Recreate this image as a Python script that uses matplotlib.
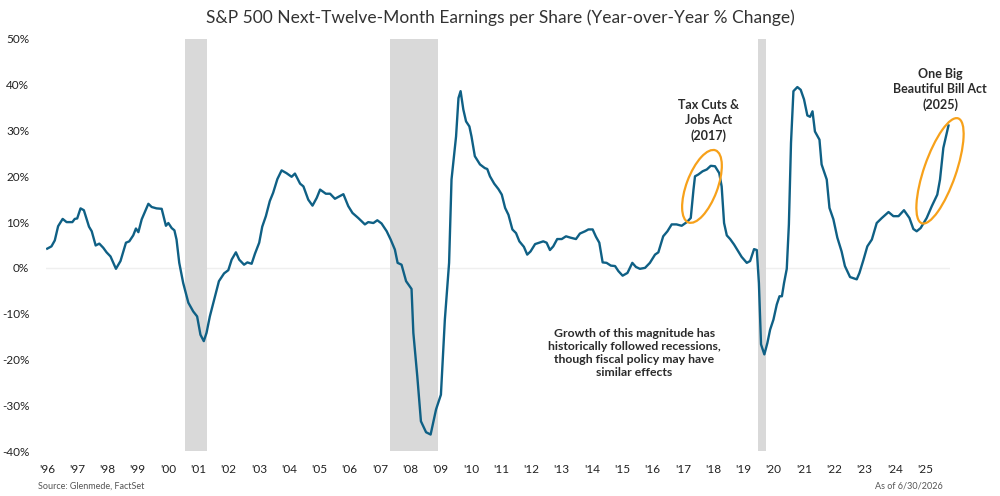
import matplotlib
matplotlib.use("Agg")
import matplotlib.pyplot as plt
from matplotlib.patches import Ellipse
from matplotlib.transforms import ScaledTranslation
import numpy as np

plt.rcParams["font.family"] = ["Lato", "DejaVu Sans"]

# decimal year, NTM EPS year-over-year % change
dates = [
    1996.61, 1996.75, 1996.86, 1996.97, 1997.12, 1997.25, 1997.44, 1997.52, 1997.60, 1997.71,
    1997.82, 1997.99, 1998.08, 1998.21, 1998.33, 1998.46, 1998.57, 1998.70, 1998.88, 1999.03,
    1999.21, 1999.32, 1999.45, 1999.54, 1999.62, 1999.73, 1999.95, 2000.06, 2000.22, 2000.39,
    2000.53, 2000.61, 2000.72, 2000.81, 2000.88, 2000.97, 2001.10, 2001.27, 2001.43, 2001.56,
    2001.67, 2001.78, 2001.87, 2001.98, 2002.15, 2002.28, 2002.45, 2002.59, 2002.70, 2002.84,
    2002.95, 2003.11, 2003.22, 2003.36, 2003.47, 2003.61, 2003.71, 2003.83, 2003.96, 2004.07,
    2004.21, 2004.35, 2004.51, 2004.68, 2004.79, 2004.96, 2005.07, 2005.23, 2005.37, 2005.51,
    2005.62, 2005.81, 2005.95, 2006.11, 2006.39, 2006.55, 2006.69, 2006.88, 2007.10, 2007.21,
    2007.38, 2007.51, 2007.65, 2007.82, 2007.95, 2008.09, 2008.18, 2008.31, 2008.46, 2008.64,
    2008.70, 2008.83, 2008.95, 2009.12, 2009.27, 2009.45, 2009.61, 2009.74, 2009.88, 2009.96,
    2010.11, 2010.19, 2010.26, 2010.35, 2010.44, 2010.55, 2010.62, 2010.73, 2010.90, 2011.06,
    2011.14, 2011.23, 2011.37, 2011.51, 2011.62, 2011.73, 2011.84, 2011.97, 2012.09, 2012.20,
    2012.35, 2012.46, 2012.57, 2012.72, 2012.86, 2012.99, 2013.10, 2013.21, 2013.32, 2013.45,
    2013.60, 2013.74, 2013.89, 2014.07, 2014.20, 2014.37, 2014.48, 2014.62, 2014.73, 2014.84,
    2014.95, 2015.08, 2015.22, 2015.36, 2015.47, 2015.61, 2015.77, 2015.93, 2016.05, 2016.18,
    2016.35, 2016.51, 2016.68, 2016.79, 2016.95, 2017.09, 2017.23, 2017.39, 2017.56, 2017.73,
    2017.86, 2017.95, 2018.00, 2018.11, 2018.25, 2018.39, 2018.52, 2018.66, 2018.80, 2018.88,
    2018.96, 2019.05, 2019.16, 2019.29, 2019.43, 2019.54, 2019.71, 2019.82, 2019.95, 2020.04,
    2020.11, 2020.18, 2020.29, 2020.39, 2020.48, 2020.59, 2020.70, 2020.79, 2020.87, 2020.94,
    2021.03, 2021.10, 2021.17, 2021.25, 2021.38, 2021.49, 2021.60, 2021.71, 2021.80, 2021.88,
    2021.96, 2022.11, 2022.18, 2022.35, 2022.44, 2022.57, 2022.70, 2022.84, 2022.95, 2023.12,
    2023.34, 2023.43, 2023.56, 2023.69, 2023.84, 2024.00, 2024.17, 2024.39, 2024.55, 2024.72,
    2024.90, 2025.08, 2025.21, 2025.32, 2025.45, 2025.65, 2025.82, 2026.00, 2026.09, 2026.20,
    2026.37,
]
eps_yoy = [
    4.2, 4.7, 6.0, 9.1, 10.7, 10.0, 10.0, 10.7, 10.8, 13.0,
    12.6, 9.0, 8.0, 4.9, 5.3, 4.4, 3.4, 2.5, -0.2, 1.5,
    5.5, 5.8, 7.1, 8.6, 7.8, 10.6, 14.0, 13.3, 13.0, 12.9,
    9.2, 9.8, 8.7, 8.2, 6.2, 1.1, -3.3, -7.6, -9.5, -10.6,
    -14.6, -16.0, -14.2, -10.6, -6.2, -2.9, -1.2, -0.5, 1.8, 3.4,
    1.8, 0.7, 1.2, 0.9, 3.1, 5.5, 9.0, 11.3, 14.6, 16.4,
    19.4, 21.3, 20.7, 19.9, 20.6, 18.4, 17.8, 14.9, 13.6, 15.3,
    17.1, 16.2, 16.2, 15.1, 16.1, 13.5, 12.0, 10.9, 9.5, 10.0,
    9.8, 10.4, 9.7, 8.0, 6.2, 4.0, 1.1, 0.7, -2.9, -4.6,
    -14.2, -23.7, -33.5, -35.9, -36.4, -30.9, -27.7, -11.3, 1.1, 19.3,
    28.7, 37.1, 38.6, 34.6, 32.0, 30.9, 28.7, 24.4, 22.6, 21.8,
    21.6, 20.0, 18.4, 17.2, 16.0, 13.1, 11.6, 8.4, 7.6, 5.8,
    4.6, 2.9, 3.6, 5.2, 5.5, 5.8, 5.5, 3.9, 4.7, 6.3,
    6.3, 6.9, 6.6, 6.3, 7.5, 8.0, 8.4, 8.4, 6.8, 5.5,
    1.2, 1.1, 0.5, 0.4, -0.7, -1.7, -1.1, 1.1, 0.2, -0.2,
    0.0, 1.1, 2.9, 3.4, 6.9, 8.0, 9.5, 9.5, 9.2, 10.0,
    10.9, 17.1, 20.0, 20.4, 21.1, 21.5, 22.3, 22.2, 20.7, 17.8,
    9.8, 7.1, 6.3, 5.1, 3.6, 2.4, 1.1, 1.5, 4.1, 3.9,
    -3.3, -16.7, -18.9, -16.4, -13.5, -11.3, -8.0, -6.2, -6.2, -3.3,
    -0.2, 9.5, 27.3, 38.6, 39.5, 38.9, 36.8, 33.3, 33.0, 34.2,
    29.8, 28.0, 22.6, 19.3, 13.1, 10.6, 6.6, 3.6, 0.4, -2.0,
    -2.5, -1.1, 1.7, 4.7, 6.2, 9.8, 10.9, 12.2, 11.3, 11.3,
    12.6, 10.9, 8.5, 8.0, 8.7, 10.9, 13.5, 16.0, 19.3, 26.2,
    31.1,
]

recession_start = [2001.17, 2007.92, 2020.08]
recession_end = [2001.90, 2009.50, 2020.33]

years = list(range(1996, 2026))
year_labels = ["'" + str(y)[2:] for y in years]

y_ticks = [-40, -30, -20, -10, 0, 10, 20, 30, 40, 50]

line_color = "#0F6085"
orange = "#F7A11A"
text_color = "#2B2B2B"

fig = plt.figure(figsize=(10, 4.96), dpi=100)
ax = fig.add_axes([0.046, 0.0907, 0.904, 0.8307])

ax.axhline(0, color="#EFEFEF", lw=1, zorder=0)
for s, e in zip(recession_start, recession_end):
    ax.axvspan(s, e, color="#D9D9D9", lw=0, zorder=1)

ax.plot(dates, eps_yoy, color=line_color, lw=1.7, zorder=3)

ax.set_xlim(1996.57, 2026.42)
ax.set_ylim(-40, 50)
ax.set_xticks(np.array(years) + 0.6)
ax.set_xticklabels(year_labels)
ax.set_yticks(y_ticks)
ax.set_yticklabels([f"{v}%" for v in y_ticks])
ax.tick_params(length=0, labelsize=8.5, colors="#222222")
ax.tick_params(axis="y", pad=12)
ax.tick_params(axis="x", pad=9)
for sp in ax.spines.values():
    sp.set_visible(False)

fig.text(0.5, 0.965, "S&P 500 Next-Twelve-Month Earnings per Share (Year-over-Year % Change)",
         ha="center", va="center", fontsize=12.5, color="#333333")

# orange ellipses, sized in inches and centred on a data point
def ring(x, y, major, minor, angle):
    tr = fig.dpi_scale_trans + ScaledTranslation(x, y, ax.transData)
    ax.add_patch(Ellipse((0, 0), major, minor, angle=angle, transform=tr,
                         fill=False, ec=orange, lw=1.6, zorder=4, clip_on=False))

ring(2018.23, 17.8, 0.77, 0.31, 69.4)
ring(2026.09, 21.2, 1.11, 0.32, 70.9)

ax.text(2018.45, 27.6, "Tax Cuts &\nJobs Act\n(2017)", ha="center", va="bottom",
        fontsize=9, fontweight="bold", color=text_color, linespacing=1.3)
ax.text(2026.1, 34.2, "One Big\nBeautiful Bill Act\n(2025)", ha="center", va="bottom",
        fontsize=9, fontweight="bold", color=text_color, linespacing=1.3)
ax.text(2016.0, -18.6, "Growth of this magnitude has\nhistorically followed recessions,\n"
        "though fiscal policy may have\nsimilar effects", ha="center", va="center",
        fontsize=8.8, fontweight="bold", color=text_color, linespacing=1.25)

fig.text(0.038, 0.02, "Source: Glenmede, FactSet", fontsize=6.5, color="#555555", va="center")
fig.text(0.943, 0.02, "As of 6/30/2026", fontsize=6.5, color="#555555", va="center", ha="right")

fig.savefig("out.png", dpi=100)
